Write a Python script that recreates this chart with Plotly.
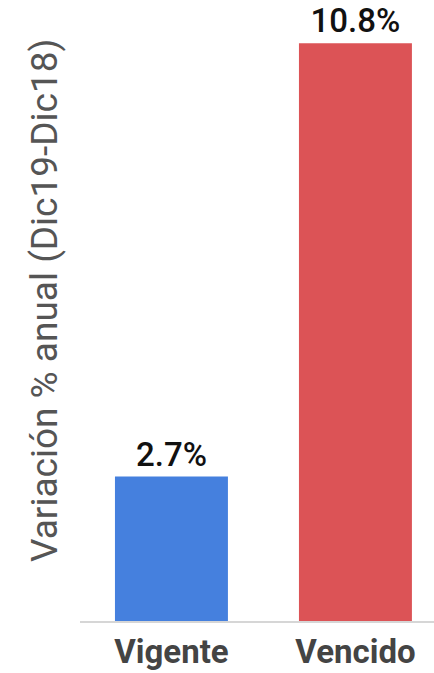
import plotly.graph_objects as go

categories = ["Vigente", "Vencido"]
values = [2.7, 10.8]
colors = ["#4580de", "#dc5356"]
y_title = "Variación % anual (Dic19-Dic18)"

L, T, B, W, H = 80, 10, 52, 434, 673
pw, ph = W - L, H - T - B

fig = go.Figure()
fig.add_trace(go.Bar(
    x=categories,
    y=values,
    marker=dict(color=colors, line=dict(width=0)),
    texttemplate="%{y:.1f}%",
    textposition="outside",
    textfont=dict(family="Roboto", size=33, color="#111111", weight=500),
    cliponaxis=False,
    width=0.614,
))

fig.update_layout(
    width=W, height=H,
    margin=dict(l=L, r=0, t=T, b=B, autoexpand=False),
    paper_bgcolor="white", plot_bgcolor="white",
    showlegend=False,
    font=dict(family="Roboto"),
    xaxis=dict(
        range=[-0.497, 1.427], automargin=False,
        showline=True, linecolor="#d6d6d6", linewidth=2,
        ticks="", showgrid=False, zeroline=False,
        tickfont=dict(family="Roboto", size=33, color="#444444", weight="bold"),
    ),
    yaxis=dict(
        range=[0, 11.42], automargin=False,
        showticklabels=False, showgrid=False, zeroline=False, showline=False, ticks="",
    ),
    annotations=[dict(
        text=y_title, textangle=-90, xref="paper", yref="paper",
        x=(44 - L) / pw, y=(H - B - 301) / ph, xanchor="center", yanchor="middle",
        showarrow=False,
        font=dict(family="Roboto", size=37, color="#555555"),
    )],
)

fig.write_html("out.html", config={"displayModeBar": False},
               post_script="document.body.style.margin='0';")
